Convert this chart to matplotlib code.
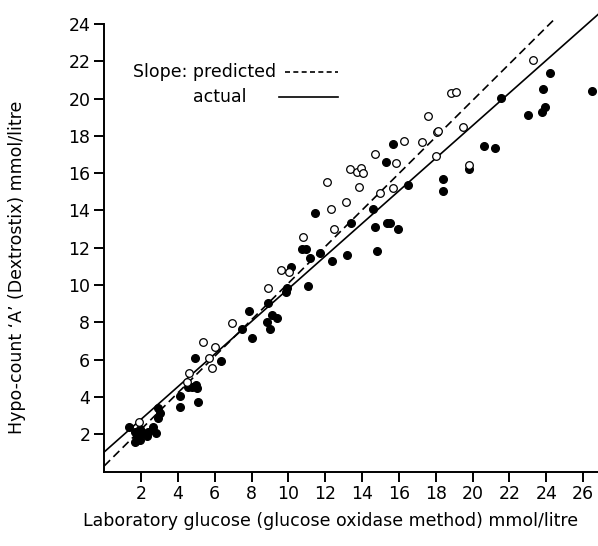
import numpy as np
import matplotlib.pyplot as plt

plt.rcParams['font.family'] = ['DejaVu Sans']

# --- Data (mmol/litre) ---
filled_x = [1.36, 1.67, 1.94, 1.76, 1.67, 2.12, 2.40, 2.67, 2.81, 2.94, 3.03, 2.94,
            1.94, 2.30, 1.85, 4.12, 4.12, 4.57, 4.75, 4.98, 5.02, 5.11, 4.93, 6.32,
            7.46, 8.04, 7.86, 8.91, 9.09, 9.36, 8.82, 9.00, 9.87, 9.91, 11.05, 10.14,
            10.72, 10.96, 11.17, 11.72, 12.35, 15.66, 15.30, 11.44, 14.58, 13.40, 14.70,
            15.34, 15.52, 15.97, 14.79, 13.17, 16.51, 19.80, 18.38, 18.41, 20.62, 21.22,
            21.54, 22.99, 23.78, 23.93, 23.81, 24.20, 26.50]
filled_y = [2.41, 2.14, 2.27, 1.87, 1.60, 2.05, 2.14, 2.41, 2.09, 2.86, 3.13, 3.39,
            1.69, 1.91, 2.00, 4.05, 3.48, 4.55, 4.55, 4.64, 4.47, 3.75, 6.07, 5.95,
            7.63, 7.15, 8.63, 9.06, 8.40, 8.22, 8.04, 7.63, 9.65, 9.83, 9.97, 10.95,
            11.92, 11.92, 11.44, 11.71, 11.31, 17.55, 16.62, 13.88, 14.06, 13.31, 13.10,
            13.31, 13.31, 13.01, 11.83, 11.61, 15.37, 16.22, 15.67, 15.06, 17.46, 17.37,
            20.02, 19.14, 19.26, 19.57, 20.53, 21.36, 20.41]

open_x = [1.91, 4.62, 4.51, 5.71, 5.84, 5.35, 6.02, 6.92, 8.91, 9.60, 10.03, 12.08,
          13.34, 13.71, 13.94, 14.07, 14.70, 13.85, 13.11, 12.31, 12.48, 10.81, 16.29,
          17.27, 18.05, 18.00, 15.82, 14.97, 15.69, 23.30, 18.81, 19.10, 17.60, 18.10,
          19.50, 19.80]
open_y = [2.68, 5.27, 4.82, 6.07, 5.54, 6.97, 6.66, 7.95, 9.83, 10.81, 10.72, 15.54,
          16.20, 16.08, 16.26, 16.03, 17.01, 15.28, 14.47, 14.06, 12.99, 12.56, 17.73,
          17.69, 18.23, 16.94, 16.56, 14.92, 15.19, 22.07, 20.28, 20.34, 19.07, 18.26,
          18.50, 16.44]

# regression lines: (intercept, slope, x end)
pred_line = (0.3, 0.98, 24.4)
actual_line = (1.05, 0.875, 26.9)

fs = 12.5

fig = plt.figure(figsize=(5.98, 5.46), dpi=100)
ax = fig.add_axes([0.1742, 0.1363, 0.8286, 0.8198])

a, b, xe = pred_line
xs = np.array([0, xe])
ax.plot(xs, a + b * xs, color='black', lw=1.2, linestyle=(0, (5, 2.8)), clip_on=False)
a, b, xe = actual_line
xs = np.array([0, xe])
ax.plot(xs, a + b * xs, color='black', lw=1.2, clip_on=False)

ax.plot(filled_x, filled_y, 'o', color='black', ms=5.5, clip_on=False)
ax.plot(open_x, open_y, 'o', mfc='white', mec='black', mew=0.9, ms=5.5, clip_on=False)

ax.set_xlim(0, 26.9)
ax.set_ylim(0, 24)
ax.set_xticks(np.arange(2, 27, 2))
ax.set_yticks(np.arange(2, 25, 2))
ax.tick_params(direction='out', length=7, width=1.4, labelsize=fs, pad=3)
for s in ['top', 'right']:
    ax.spines[s].set_visible(False)
for s in ['left', 'bottom']:
    ax.spines[s].set_linewidth(1.4)

# key
ax.text(1.56, 21.43, 'Slope: predicted', fontsize=fs, va='center', ha='left')
ax.text(4.82, 20.1, 'actual', fontsize=fs, va='center', ha='left')
ax.plot([9.8, 12.7], [21.43, 21.43], color='black', lw=1.2, linestyle=(0, (3, 2)))
ax.plot([9.5, 12.7], [20.1, 20.1], color='black', lw=1.2)

fig.text(331 / 598, 1 - 521 / 546, 'Laboratory glucose (glucose oxidase method) mmol/litre',
         fontsize=fs, ha='center', va='center')
fig.text(17 / 598, 1 - 267 / 546, 'Hypo-count \u2018A\u2019 (Dextrostix) mmol/litre',
         fontsize=fs, ha='center', va='center', rotation=90)

fig.savefig('out.png', dpi=100)
